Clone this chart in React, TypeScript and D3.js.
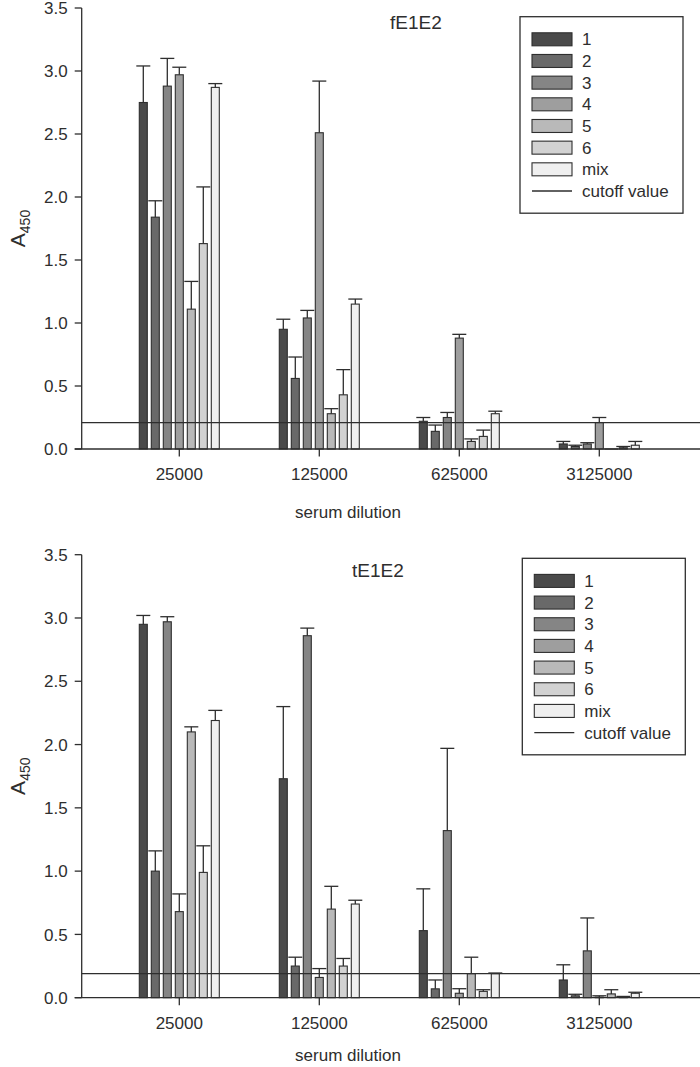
import React from "react";
import * as d3 from "d3";

const dilutions = ["25000", "125000", "625000", "3125000"];
const seriesNames = ["1", "2", "3", "4", "5", "6", "mix"];
const seriesFills = ["#4a4a4a", "#696969", "#858585", "#9e9e9e", "#b9b9b9", "#d2d2d2", "#efefef"];
const yTicks = [0, 0.5, 1.0, 1.5, 2.0, 2.5, 3.0, 3.5];

// fE1E2 (top panel): mean values per series across dilutions
const fMean1 = [2.75, 0.95, 0.22, 0.04];
const fMean2 = [1.84, 0.56, 0.14, 0.02];
const fMean3 = [2.88, 1.04, 0.25, 0.04];
const fMean4 = [2.97, 2.51, 0.88, 0.21];
const fMean5 = [1.11, 0.28, 0.06, 0.0];
const fMean6 = [1.63, 0.43, 0.1, 0.01];
const fMeanMix = [2.87, 1.15, 0.28, 0.03];
const fErr1 = [0.29, 0.08, 0.03, 0.02];
const fErr2 = [0.13, 0.17, 0.05, 0.01];
const fErr3 = [0.22, 0.06, 0.04, 0.01];
const fErr4 = [0.06, 0.41, 0.03, 0.04];
const fErr5 = [0.22, 0.04, 0.02, 0.0];
const fErr6 = [0.45, 0.2, 0.05, 0.01];
const fErrMix = [0.03, 0.04, 0.02, 0.03];
const fCutoff = 0.21;

// tE1E2 (bottom panel)
const tMean1 = [2.95, 1.73, 0.53, 0.14];
const tMean2 = [1.0, 0.25, 0.07, 0.015];
const tMean3 = [2.97, 2.86, 1.32, 0.37];
const tMean4 = [0.68, 0.16, 0.035, 0.005];
const tMean5 = [2.1, 0.7, 0.19, 0.03];
const tMean6 = [0.99, 0.25, 0.05, 0.005];
const tMeanMix = [2.19, 0.74, 0.19, 0.035];
const tErr1 = [0.07, 0.57, 0.33, 0.12];
const tErr2 = [0.16, 0.07, 0.07, 0.012];
const tErr3 = [0.04, 0.06, 0.65, 0.26];
const tErr4 = [0.14, 0.07, 0.036, 0.01];
const tErr5 = [0.04, 0.18, 0.13, 0.033];
const tErr6 = [0.21, 0.06, 0.013, 0.005];
const tErrMix = [0.08, 0.03, 0.005, 0.008];
const tCutoff = 0.19;

const FONT = "'Liberation Sans', Arial, Helvetica, sans-serif";
const INK = "#2e2e2e";

type PanelProps = {
  title: string;
  titleX: number;
  titleDy: number;
  xLabelDy: number;
  means: number[][];
  errs: number[][];
  cutoff: number;
  y0: number;
  y1: number;
  legendX: number;
  legendY: number;
};

function Panel({ title, titleX, titleDy, xLabelDy, means, errs, cutoff, y0, y1, legendX, legendY }: PanelProps) {
  const axisX = 81.7;
  const x = d3.scaleBand<string>().domain(dilutions).range([109.3, 669.3]);
  const inner = d3
    .scaleBand<string>()
    .domain(seriesNames)
    .range([-42, 42])
    .paddingInner(1 / 3)
    .paddingOuter(1 / 6);
  const y = d3.scaleLinear().domain([0, 3.5]).range([y0, y1]);
  const fmt = d3.format(".1f");
  const rowH = 21.67;
  const legendW = 163;
  const legendH = 196.5;

  return (
    <g>
      {/* bars */}
      {seriesNames.map((s, si) =>
        dilutions.map((d, di) => {
          const v = means[si][di];
          const cx = (x(d) as number) + x.bandwidth() / 2;
          const bx = cx + (inner(s) as number);
          return (
            <rect
              key={`b${si}-${di}`}
              x={bx}
              y={y(v)}
              width={inner.bandwidth()}
              height={Math.max(0, y(0) - y(v))}
              fill={seriesFills[si]}
              stroke={INK}
              strokeWidth={1.1}
            />
          );
        })
      )}
      {/* error bars */}
      {seriesNames.map((s, si) =>
        dilutions.map((d, di) => {
          const v = means[si][di];
          const e = errs[si][di];
          const cx = (x(d) as number) + x.bandwidth() / 2 + (inner(s) as number) + inner.bandwidth() / 2;
          return (
            <g key={`e${si}-${di}`} stroke={INK} strokeWidth={1.3}>
              <line x1={cx} x2={cx} y1={y(v)} y2={y(v + e)} />
              <line x1={cx - 7} x2={cx + 7} y1={y(v + e)} y2={y(v + e)} />
            </g>
          );
        })
      )}
      {/* cutoff line */}
      <line x1={axisX} x2={700} y1={y(cutoff)} y2={y(cutoff)} stroke={INK} strokeWidth={1.3} />
      {/* axes */}
      <line x1={axisX} x2={axisX} y1={y(0)} y2={y(3.5)} stroke={INK} strokeWidth={1.3} />
      <line x1={axisX - 7} x2={700} y1={y(0)} y2={y(0)} stroke={INK} strokeWidth={1.3} />
      {yTicks.map((t) => (
        <g key={`yt${t}`}>
          <line x1={axisX - 7} x2={axisX} y1={y(t)} y2={y(t)} stroke={INK} strokeWidth={1.3} />
          <text
            x={axisX - 14}
            y={y(t)}
            dy="0.36em"
            textAnchor="end"
            fontSize={17}
            fontFamily={FONT}
            fill={INK}
          >
            {fmt(t)}
          </text>
        </g>
      ))}
      {dilutions.map((d) => {
        const cx = (x(d) as number) + x.bandwidth() / 2;
        return (
          <g key={`xt${d}`}>
            <line x1={cx} x2={cx} y1={y(0)} y2={y(0) + 7.5} stroke={INK} strokeWidth={1.3} />
            <text x={cx} y={y(0) + 31} textAnchor="middle" fontSize={17} fontFamily={FONT} fill={INK}>
              {d}
            </text>
          </g>
        );
      })}
      <text x={348} y={y(0) + xLabelDy} textAnchor="middle" fontSize={17} fontFamily={FONT} fill={INK}>
        serum dilution
      </text>
      <text
        transform={`translate(${25},${(y(0) + y(3.5)) / 2}) rotate(-90)`}
        textAnchor="middle"
        fontSize={21}
        fontFamily={FONT}
        fill={INK}
      >
        A<tspan fontSize={14} dy={5}>450</tspan>
      </text>
      <text x={titleX} y={y(3.5) + titleDy} fontSize={19} fontFamily={FONT} fill={INK}>
        {title}
      </text>
      {/* legend */}
      <rect x={legendX} y={legendY} width={legendW} height={legendH} fill="#ffffff" stroke={INK} strokeWidth={1.3} />
      {seriesNames.map((s, si) => {
        const cy = legendY + 22.6 + si * rowH;
        return (
          <g key={`lg${s}`}>
            <rect x={legendX + 12} y={cy - 6.5} width={40} height={13} fill={seriesFills[si]} stroke={INK} strokeWidth={1.1} />
            <text x={legendX + 62} y={cy} dy="0.36em" fontSize={17} fontFamily={FONT} fill={INK}>
              {s}
            </text>
          </g>
        );
      })}
      <line
        x1={legendX + 12}
        x2={legendX + 52}
        y1={legendY + 22.6 + 7 * rowH}
        y2={legendY + 22.6 + 7 * rowH}
        stroke={INK}
        strokeWidth={1.3}
      />
      <text x={legendX + 62} y={legendY + 22.6 + 7 * rowH} dy="0.36em" fontSize={17} fontFamily={FONT} fill={INK}>
        cutoff value
      </text>
    </g>
  );
}

export default function App() {
  const fMeans = [fMean1, fMean2, fMean3, fMean4, fMean5, fMean6, fMeanMix];
  const fErrs = [fErr1, fErr2, fErr3, fErr4, fErr5, fErr6, fErrMix];
  const tMeans = [tMean1, tMean2, tMean3, tMean4, tMean5, tMean6, tMeanMix];
  const tErrs = [tErr1, tErr2, tErr3, tErr4, tErr5, tErr6, tErrMix];
  return (
    <svg
      width={700}
      height={1067}
      style={{ position: "absolute", left: 0, top: 0, background: "#ffffff" }}
    >
      <rect x={0} y={0} width={700} height={1067} fill="#ffffff" />
      <Panel
        title="fE1E2"
        titleX={390}
        titleDy={21}
        xLabelDy={69}
        means={fMeans}
        errs={fErrs}
        cutoff={fCutoff}
        y0={449}
        y1={8}
        legendX={520}
        legendY={16.7}
      />
      <Panel
        title="tE1E2"
        titleX={352}
        titleDy={22}
        xLabelDy={63}
        means={tMeans}
        errs={tErrs}
        cutoff={tCutoff}
        y0={997.7}
        y1={554.7}
        legendX={522.3}
        legendY={558.3}
      />
    </svg>
  );
}
